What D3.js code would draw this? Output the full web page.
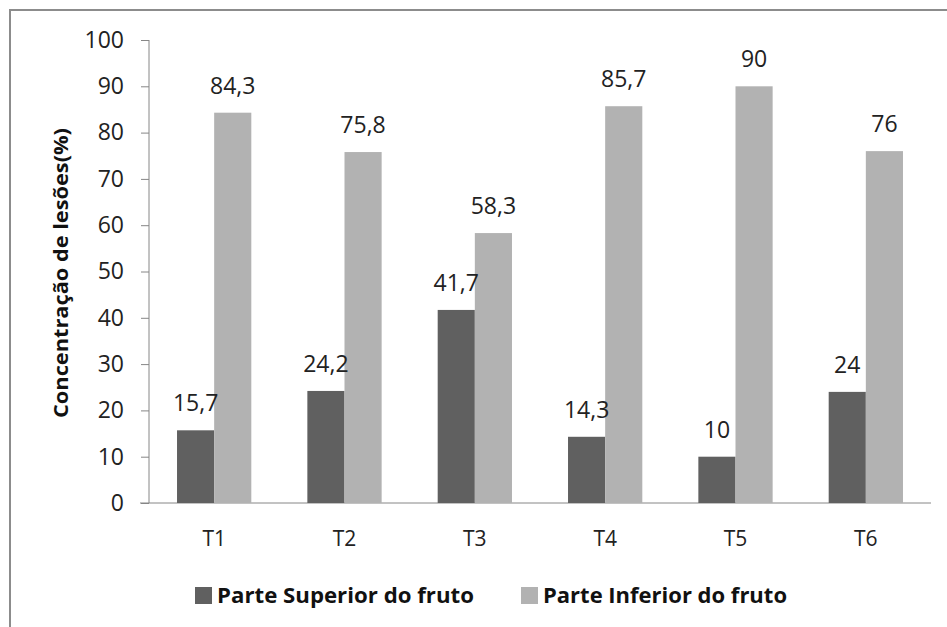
<!DOCTYPE html>
<html><head><meta charset="utf-8">
<script src="https://cdn.jsdelivr.net/npm/d3@7"></script>
<style>body{margin:0;background:#fff}</style>
</head><body>
<svg id="c" width="947" height="627"></svg>
<script>
const categories = ["T1","T2","T3","T4","T5","T6"];
const superior = [15.7, 24.2, 41.7, 14.3, 10, 24];
const inferior = [84.3, 75.8, 58.3, 85.7, 90, 76];
const seriesNames = ["Parte Superior do fruto", "Parte Inferior do fruto"];
const seriesColors = ["#606060", "#b2b2b2"];
const yTicks = [0,10,20,30,40,50,60,70,80,90,100];

const svg = d3.select("#c");
svg.append("rect").attr("x",10).attr("y",10).attr("width",960).attr("height",640)
  .attr("fill","none").attr("stroke","#8c8c8c").attr("stroke-width",2);

const x0 = 149, x1 = 931, yTop = 40, yBot = 503;
const x = d3.scaleBand().domain(categories).range([x0, x1]).paddingInner(0.43).paddingOuter(0.215);
const y = d3.scaleLinear().domain([0,100]).range([yBot, yTop]);
const fmt = v => String(v).replace(".", ",");
const FONT = "Open Sans";

const g = svg.append("g");
// y axis
const ya = g.append("g").attr("transform",`translate(${x0},0)`)
  .call(d3.axisLeft(y).tickValues(yTicks).tickSize(8).tickPadding(17).tickFormat(d3.format("d")));
ya.select(".domain").attr("stroke","#868686").attr("d",`M0,${yTop}V${yBot}`);
ya.selectAll(".tick line").attr("stroke","#868686");
ya.selectAll("text").attr("font-family",FONT).attr("font-size",23).attr("fill","#222");

// x axis
const xa = g.append("g").attr("transform",`translate(0,${yBot})`)
  .call(d3.axisBottom(x).tickSize(0).tickPadding(28));
xa.select(".domain").attr("stroke","#868686").attr("d",`M${x0-9},0H${x1}`);
xa.selectAll("text").attr("font-family",FONT).attr("font-size",21).attr("fill","#222");

const bw = x.bandwidth()/2;
const series = [superior, inferior];
const barsG = g.append("g"), labelsG = g.append("g");
series.forEach((vals, si) => {
  barsG.selectAll(null).data(categories).enter().append("rect")
    .attr("x", d => x(d) + si*bw).attr("width", bw)
    .attr("y", (d,i) => y(vals[i])).attr("height", (d,i) => yBot - y(vals[i]))
    .attr("fill", seriesColors[si]);
  labelsG.selectAll(null).data(categories).enter().append("text")
    .attr("x", d => x(d) + si*bw + bw/2).attr("y", (d,i) => y(vals[i]) - 19)
    .attr("text-anchor","middle").attr("font-family",FONT).attr("font-size",23).attr("fill","#222")
    .text((d,i) => fmt(vals[i]));
});

// y title
svg.append("text").attr("transform","translate(68,273) rotate(-90)")
  .attr("text-anchor","middle").attr("font-family",FONT).attr("font-weight",700)
  .attr("font-size",20).attr("fill","#111")
  .attr("textLength",290).attr("lengthAdjust","spacingAndGlyphs")
  .text("Concentração de lesões(%)");

// legend
const legX = [195, 521];
const legW = [257, 244];
seriesNames.forEach((n, i) => {
  svg.append("rect").attr("x", legX[i]).attr("y", 587).attr("width", 17).attr("height", 17).attr("fill", seriesColors[i]);
  svg.append("text").attr("x", legX[i] + 22).attr("y", 603).attr("font-family",FONT).attr("font-weight",700)
    .attr("font-size",21).attr("fill","#111")
    .attr("textLength",legW[i]).attr("lengthAdjust","spacingAndGlyphs").text(n);
});
</script>
</body></html>
